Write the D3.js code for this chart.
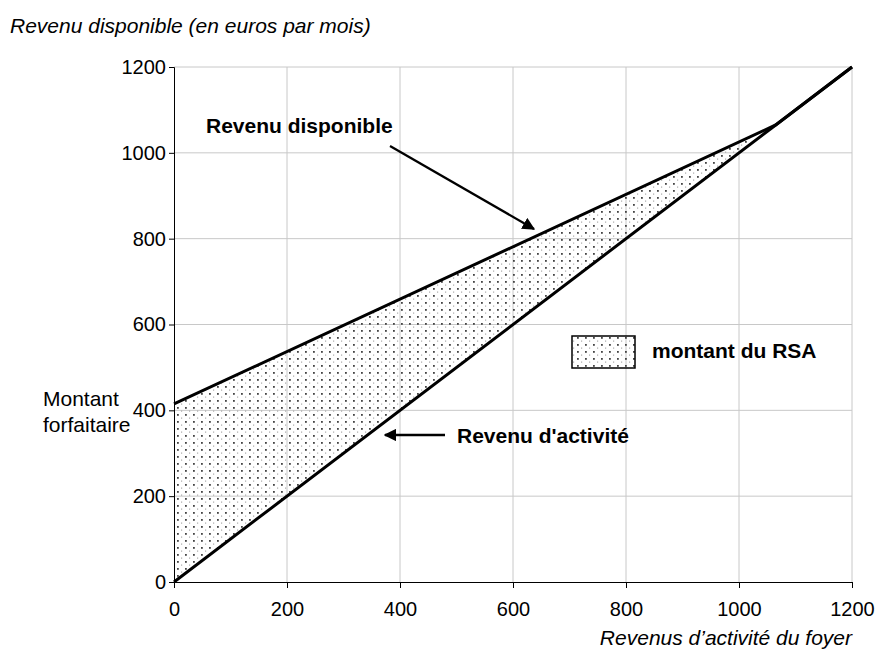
<!DOCTYPE html>
<html>
<head>
<meta charset="utf-8">
<script src="https://cdn.jsdelivr.net/npm/d3@7"></script>
<style>
  body { margin: 0; background: #fff; }
  svg { font-family: Arial, "Liberation Sans", sans-serif; }
</style>
</head>
<body>
<svg id="chart" width="883" height="653"></svg>
<script>
// data
const revenusActivite = [0, 1065, 1200]
const revenuDisponible = [415, 1065, 1200]
const revenuActiviteLine = [0, 1065, 1200]
const xTicks = [0, 200, 400, 600, 800, 1000, 1200]
const yTicks = [0, 200, 400, 600, 800, 1000, 1200]

const svg = d3.select('#chart')
const x = d3.scaleLinear().domain([0, 1200]).range([174, 852])
const y = d3.scaleLinear().domain([0, 1200]).range([582, 67])

// dotted pattern for the RSA area
const defs = svg.append('defs')
const pat = defs.append('pattern')
  .attr('id', 'dots')
  .attr('patternUnits', 'userSpaceOnUse')
  .attr('width', 8)
  .attr('height', 7)
pat.append('rect').attr('x', 1).attr('y', 1).attr('width', 1.8).attr('height', 1.8).attr('fill', '#444')
pat.append('rect').attr('x', 5).attr('y', 4.5).attr('width', 1.2).attr('height', 1.2).attr('fill', '#aaa')

const arrow = defs.append('marker')
  .attr('id', 'arrow')
  .attr('viewBox', '0 0 10 10')
  .attr('refX', 9).attr('refY', 5)
  .attr('markerWidth', 5.5).attr('markerHeight', 5.5)
  .attr('markerUnits', 'strokeWidth')
  .attr('orient', 'auto')
arrow.append('path').attr('d', 'M0,0 L10,5 L0,10 z').attr('fill', '#000')

// grid
svg.append('g')
  .selectAll('line')
  .data(xTicks.slice(1))
  .enter()
  .append('line')
  .attr('x1', d => x(d)).attr('x2', d => x(d))
  .attr('y1', y(1200)).attr('y2', y(0))
  .attr('stroke', '#c8c8c8')
svg.append('g')
  .selectAll('line')
  .data(yTicks.slice(1))
  .enter()
  .append('line')
  .attr('x1', x(0)).attr('x2', x(1200))
  .attr('y1', d => y(d)).attr('y2', d => y(d))
  .attr('stroke', '#c8c8c8')

// shaded area between the two lines
const rsa = revenusActivite.slice(0, 2).map((v, i) => ({ x: v, hi: revenuDisponible[i], lo: revenuActiviteLine[i] }))
svg.append('path')
  .datum(rsa)
  .attr('d', d3.area().x(d => x(d.x)).y0(d => y(d.lo)).y1(d => y(d.hi)))
  .attr('fill', 'url(#dots)')

// axes
const xAxis = svg.append('g')
  .attr('transform', `translate(0,${y(0)})`)
  .call(d3.axisBottom(x).tickValues(xTicks).tickSize(6).tickPadding(14).tickFormat(d3.format('d')))
const yAxis = svg.append('g')
  .attr('transform', `translate(${x(0)},0)`)
  .call(d3.axisLeft(y).tickValues(yTicks).tickSize(5).tickPadding(3).tickFormat(d3.format('d')))
;[xAxis, yAxis].forEach(g => {
  g.select('.domain').attr('stroke', '#000')
  g.selectAll('.tick line').attr('stroke', '#000')
  g.selectAll('.tick text')
    .attr('fill', '#000')
    .style('font-size', '20px')
    .style('font-family', 'Arial, "Liberation Sans", sans-serif')
})

// the two lines
const line = d3.line().x(d => x(d[0])).y(d => y(d[1]))
svg.append('path')
  .datum(revenusActivite.map((v, i) => [v, revenuActiviteLine[i]]))
  .attr('d', line)
  .attr('fill', 'none')
  .attr('stroke', '#000')
  .attr('stroke-width', 3)
svg.append('path')
  .datum(revenusActivite.map((v, i) => [v, revenuDisponible[i]]))
  .attr('d', line)
  .attr('fill', 'none')
  .attr('stroke', '#000')
  .attr('stroke-width', 3)

// titles
svg.append('text')
  .attr('x', 10).attr('y', 33)
  .style('font-size', '21px').style('font-style', 'italic')
  .text('Revenu disponible (en euros par mois)')
svg.append('text')
  .attr('x', 852).attr('y', 645)
  .attr('text-anchor', 'end')
  .style('font-size', '21px').style('font-style', 'italic')
  .text('Revenus d\u2019activité du foyer')
svg.append('text')
  .attr('x', 43).attr('y', 406)
  .style('font-size', '21px')
  .text('Montant')
svg.append('text')
  .attr('x', 43).attr('y', 432)
  .style('font-size', '21px')
  .text('forfaitaire')

// annotations
svg.append('text')
  .attr('x', 206).attr('y', 133)
  .style('font-size', '21px').style('font-weight', 'bold')
  .text('Revenu disponible')
svg.append('line')
  .attr('x1', 390).attr('y1', 146)
  .attr('x2', 534).attr('y2', 229)
  .attr('stroke', '#000').attr('stroke-width', 2.3)
  .attr('marker-end', 'url(#arrow)')
svg.append('text')
  .attr('x', 457).attr('y', 443)
  .style('font-size', '21px').style('font-weight', 'bold')
  .text('Revenu d\'activité')
svg.append('line')
  .attr('x1', 445).attr('y1', 435)
  .attr('x2', 385).attr('y2', 435)
  .attr('stroke', '#000').attr('stroke-width', 2.3)
  .attr('marker-end', 'url(#arrow)')

// legend
svg.append('rect')
  .attr('x', 572).attr('y', 336)
  .attr('width', 63).attr('height', 32)
  .attr('fill', 'url(#dots)')
  .attr('stroke', '#000').attr('stroke-width', 1.5)
svg.append('text')
  .attr('x', 652).attr('y', 358)
  .style('font-size', '21px').style('font-weight', 'bold')
  .text('montant du RSA')
</script>
</body>
</html>
